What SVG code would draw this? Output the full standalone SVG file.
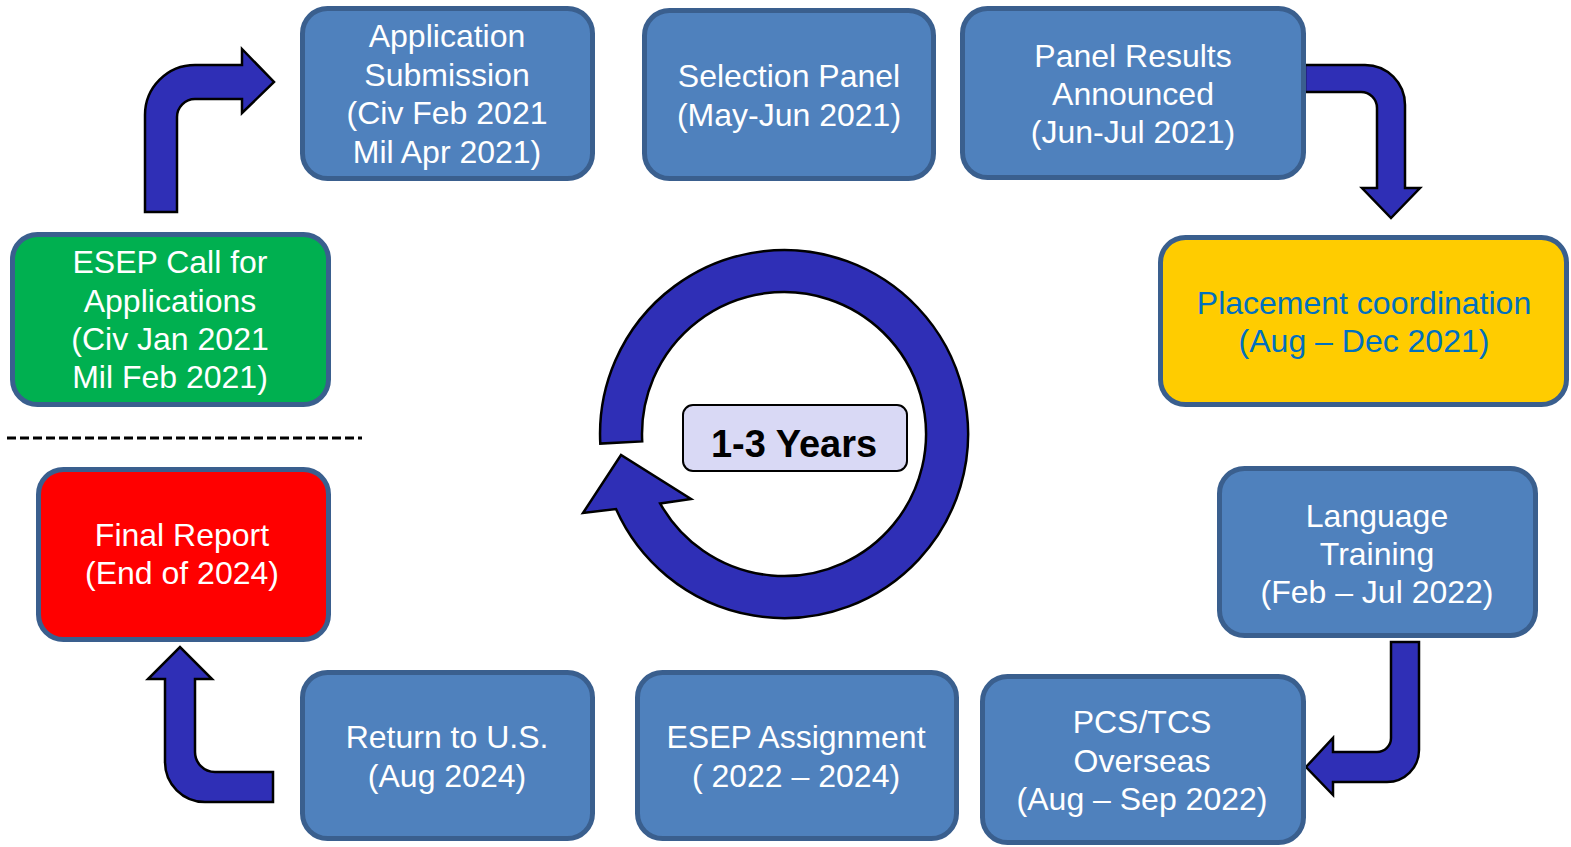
<svg xmlns="http://www.w3.org/2000/svg" width="1571" height="847" viewBox="0 0 1571 847">
<style>
.box{stroke:#3A5F8E;stroke-width:5}
.blue{fill:#4F81BD}
.t{font-family:"Liberation Sans",Arial,sans-serif;font-size:32px;fill:#fff;text-anchor:middle}
.arr{fill:#2F2FB6;stroke:#000;stroke-width:2.5;stroke-linejoin:miter}
</style>
<rect width="1571" height="847" fill="#fff"/>
<g id="connectors">
<path class="arr" d="M145,212 L145,115 A50,50 0 0 1 195,65 L242,65 L242,49 L274,82 L242,113 L242,99 L195,99 A18,18 0 0 0 177,117 L177,212 Z"/>
<path class="arr" d="M1305,65 L1365,65 A40,40 0 0 1 1405,105 L1405,188 L1420,188 L1391,218 L1362,188 L1377,188 L1377,108 A16,16 0 0 0 1361,92 L1305,92 Z"/>
<path class="arr" d="M1391,642 L1419,642 L1419,750 A32,32 0 0 1 1387,782 L1333,782 L1333,795 L1306,767 L1333,738 L1333,752 L1377,752 A14,14 0 0 0 1391,738 Z"/>
<path class="arr" d="M273,772 L273,802 L205,802 A40,40 0 0 1 165,762 L165,679 L148,679 L180,647 L212,679 L195,679 L195,752 A20,20 0 0 0 215,772 Z"/>
<path class="arr" d="M600.3,443.6 A184,184 0 1 1 616,509 L583,513 L621,455 L691,499 L660.1,503.4 A142,142 0 1 0 642.2,441.4 Z"/>
<line x1="7" y1="438" x2="362" y2="438" stroke="#000" stroke-width="3" stroke-dasharray="9,4"/>
</g>
<g id="n-call">
<rect class="box" x="12.5" y="234.5" width="316" height="170" rx="25" fill="#00B050"/>
<text class="t"><tspan x="170" y="273">ESEP Call for</tspan><tspan x="170" y="312">Applications</tspan><tspan x="170" y="350">(Civ Jan 2021</tspan><tspan x="170" y="388">Mil Feb 2021)</tspan></text>
</g>
<g id="n-app">
<rect class="box blue" x="302.5" y="8.5" width="290" height="170" rx="25"/>
<text class="t"><tspan x="447" y="47">Application</tspan><tspan x="447" y="86">Submission</tspan><tspan x="447" y="124">(Civ Feb 2021</tspan><tspan x="447" y="163">Mil Apr 2021)</tspan></text>
</g>
<g id="n-panel">
<rect class="box blue" x="644.5" y="10.5" width="289" height="168" rx="25"/>
<text class="t"><tspan x="789" y="87">Selection Panel</tspan><tspan x="789" y="126">(May-Jun 2021)</tspan></text>
</g>
<g id="n-results">
<rect class="box blue" x="962.5" y="8.5" width="341" height="169" rx="25"/>
<text class="t"><tspan x="1133" y="67">Panel Results</tspan><tspan x="1133" y="105">Announced</tspan><tspan x="1133" y="143">(Jun-Jul 2021)</tspan></text>
</g>
<g id="n-placement">
<rect class="box" x="1160.5" y="237.5" width="406" height="167" rx="25" fill="#FFCC00"/>
<text class="t" style="fill:#0070C0"><tspan x="1364" y="314">Placement coordination</tspan><tspan x="1364" y="352">(Aug – Dec 2021)</tspan></text>
</g>
<g id="n-language">
<rect class="box blue" x="1219.5" y="468.5" width="316" height="167" rx="25"/>
<text class="t"><tspan x="1377" y="527">Language</tspan><tspan x="1377" y="565">Training</tspan><tspan x="1377" y="603">(Feb – Jul 2022)</tspan></text>
</g>
<g id="n-pcs">
<rect class="box blue" x="982.5" y="676.5" width="321" height="166" rx="25"/>
<text class="t"><tspan x="1142" y="733">PCS/TCS</tspan><tspan x="1142" y="772">Overseas</tspan><tspan x="1142" y="810">(Aug – Sep 2022)</tspan></text>
</g>
<g id="n-assign">
<rect class="box blue" x="637.5" y="672.5" width="319" height="166" rx="25"/>
<text class="t"><tspan x="796" y="748">ESEP Assignment</tspan><tspan x="796" y="787">( 2022 – 2024)</tspan></text>
</g>
<g id="n-return">
<rect class="box blue" x="302.5" y="672.5" width="290" height="166" rx="25"/>
<text class="t"><tspan x="447" y="748">Return to U.S.</tspan><tspan x="447" y="787">(Aug 2024)</tspan></text>
</g>
<g id="n-final">
<rect class="box" x="38.5" y="469.5" width="290" height="170" rx="25" fill="#FF0000"/>
<text class="t"><tspan x="182" y="546">Final Report</tspan><tspan x="182" y="584">(End of 2024)</tspan></text>
</g>
<g id="n-years">
<rect x="683" y="405" width="224" height="66" rx="10" fill="#D9D9F5" stroke="#000" stroke-width="2"/>
<text x="794" y="457" style="font-family:'Liberation Sans',Arial,sans-serif;font-size:38px;font-weight:bold;fill:#000;text-anchor:middle">1-3 Years</text>
</g>
</svg>
